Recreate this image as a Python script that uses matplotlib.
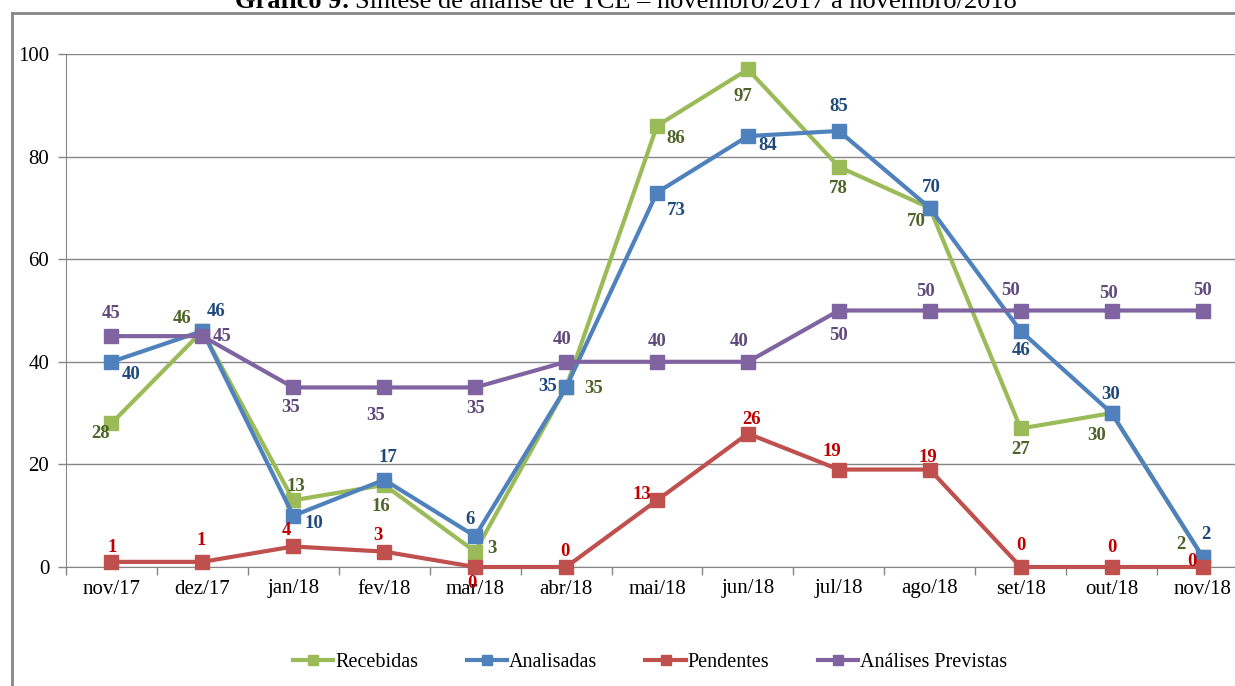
import matplotlib
matplotlib.use('Agg')
import matplotlib.pyplot as plt
from matplotlib.lines import Line2D

# Data
meses = ['nov/17', 'dez/17', 'jan/18', 'fev/18', 'mar/18', 'abr/18', 'mai/18',
         'jun/18', 'jul/18', 'ago/18', 'set/18', 'out/18', 'nov/18']
recebidas = [28, 46, 13, 16, 3, 35, 86, 97, 78, 70, 27, 30, 2]
analisadas = [40, 46, 10, 17, 6, 35, 73, 84, 85, 70, 46, 30, 2]
pendentes = [1, 1, 4, 3, 0, 0, 13, 26, 19, 19, 0, 0, 0]
previstas = [45, 45, 35, 35, 35, 40, 40, 40, 50, 50, 50, 50, 50]

# label offsets in pixels (dx, dy; dy positive = up)
off_rec = [(-11, -10), (-20, 13), (3, 14), (-3, -22), (17, 3), (28, -1), (19, -13),
           (-5, -27), (-1, -22), (-13, -14), (0, -21), (-15, -22), (-22, 12)]
off_ana = [(20, -13), (14, 20), (21, -8), (4, 22), (-5, 17), (-18, 1), (19, -18),
           (20, -9), (0, 24), (2, 20), (0, -19), (-1, 19), (3, 22)]
off_pen = [(1, 14), (-1, 21), (-7, 16), (-6, 16), (-3, -17), (-1, 16), (-15, 6),
           (4, 14), (-7, 18), (-2, 12), (0, 22), (0, 20), (-11, 5)]
off_pre = [(0, 23), (20, 0), (-3, -20), (-9, -28), (0, -21), (-4, 22), (0, 20),
           (-9, 20), (0, -25), (-4, 19), (-10, 20), (-3, 17), (0, 20)]

series = [
    ('Recebidas', recebidas, '#9BBB59', '#4F6228', off_rec),
    ('Analisadas', analisadas, '#4F81BD', '#1F497D', off_ana),
    ('Pendentes', pendentes, '#C0504D', '#C00000', off_pen),
    ('Análises Previstas', previstas, '#8064A2', '#604A7B', off_pre),
]

plt.rcParams['font.family'] = ['Liberation Serif', 'DejaVu Serif']

fig = plt.figure(figsize=(12.35, 6.86), dpi=100)
W, H = 1235, 686

# outer frame (left and top edges visible)
fig.add_artist(Line2D([12 / W, 12 / W], [0, 1 - 13 / H], transform=fig.transFigure,
                      color='#868686', lw=2))
fig.add_artist(Line2D([12 / W, 1], [1 - 13 / H, 1 - 13 / H], transform=fig.transFigure,
                      color='#868686', lw=2))

# title, cut off at the top
t1 = fig.text(235 / W, 1 - 8 / H, 'Gráfico 9:', fontsize=19, fontweight='bold',
              ha='left', va='baseline')
fig.canvas.draw()
bb = t1.get_window_extent()
fig.text((bb.x1 + 5) / W, 1 - 8 / H,
         'Síntese de análise de TCE – novembro/2017 a novembro/2018',
         fontsize=19, ha='left', va='baseline')

ax = fig.add_axes([66 / W, (686 - 567) / H, (1248 - 66) / W, (567 - 54) / H])
x = list(range(len(meses)))

for nome, vals, cor, cor_txt, offs in series:
    ax.plot(x, vals, color=cor, lw=3, marker='s', markersize=9.5,
            markeredgecolor=cor, label=nome, zorder=3, clip_on=False)
    for xi, v, (dx, dy) in zip(x, vals, offs):
        ax.annotate(str(v), (xi, v), xytext=(dx, dy), textcoords='offset pixels',
                    ha='center', va='center', fontsize=13.5, fontweight='bold',
                    color=cor_txt, zorder=5)

ax.set_xlim(-0.5, 12.5)
ax.set_ylim(0, 100)
ax.set_yticks([0, 20, 40, 60, 80, 100])
ax.set_xticks(x)
ax.set_xticklabels(meses)
ax.set_xticks([i + 0.5 for i in range(-1, 12)], minor=True)
ax.tick_params(axis='x', which='major', length=0, labelsize=15, pad=9)
ax.tick_params(axis='x', which='minor', length=6, color='#868686', width=1)
ax.tick_params(axis='y', length=6, color='#868686', width=1, labelsize=15, pad=6)
ax.grid(axis='y', color='#868686', lw=1)
ax.set_axisbelow(True)
for s in ['top', 'right']:
    ax.spines[s].set_visible(False)
ax.spines['left'].set_color('#868686')
ax.spines['bottom'].set_color('#868686')

handles = [Line2D([0], [0], color=c, lw=3, marker='s', markersize=7)
           for _, _, c, _, _ in series]
fig.legend(handles, [s[0] for s in series], loc='center', ncol=4,
           bbox_to_anchor=(650 / W, 1 - 662 / H), frameon=False, fontsize=14.5,
           handlelength=2.0, handletextpad=0.1, columnspacing=2.4)

fig.savefig('out.png', dpi=100)
